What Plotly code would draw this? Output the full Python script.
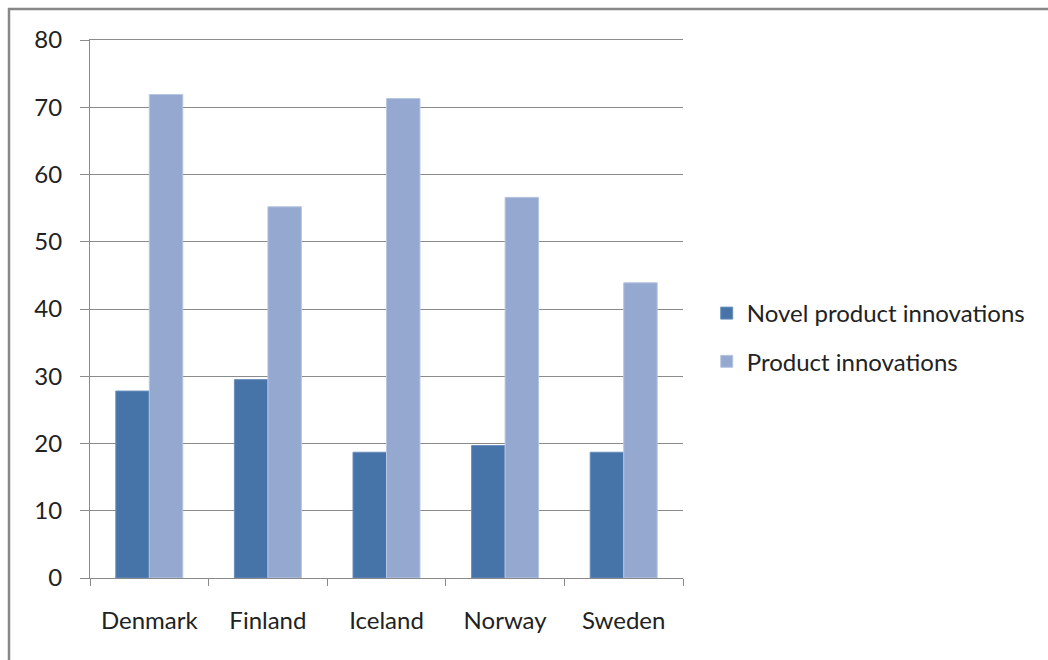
import plotly.graph_objects as go

countries = ["Denmark", "Finland", "Iceland", "Norway", "Sweden"]
novel_product = [27.8, 29.5, 18.7, 19.7, 18.7]
product = [71.9, 55.2, 71.3, 56.6, 43.9]
y_ticks = [0, 10, 20, 30, 40, 50, 60, 70, 80]

FONT = "Lato, 'Open Sans', sans-serif"
GRID = "#8a8a8a"
TEXT = "#222222"

fig = go.Figure()
fig.add_trace(go.Bar(
    x=countries, y=novel_product, name="Novel product innovations",
    marker=dict(color="#4674A8", line=dict(color="#6a8fbd", width=1)),
    legendgroup="a",
))
fig.add_trace(go.Bar(
    x=countries, y=product, name="Product innovations",
    marker=dict(color="#95A9D0", line=dict(color="#b7c6e2", width=1)),
    legendgroup="b",
))

fig.update_layout(
    width=1048, height=660,
    margin=dict(l=90, r=365, t=40, b=82),
    paper_bgcolor="white", plot_bgcolor="white",
    barmode="group", bargap=0.435, bargroupgap=0,
    font=dict(family=FONT, size=24, color=TEXT),
    showlegend=True,
    legend=dict(
        x=1.04, y=0.447, xanchor="left", yanchor="middle",
        font=dict(family=FONT, size=24, color=TEXT),
        tracegroupgap=14, itemwidth=30,
        bgcolor="rgba(0,0,0,0)",
    ),
    xaxis=dict(
        showgrid=False, showline=True, linecolor=GRID, linewidth=1, mirror=True,
        ticks="outside", tickson="boundaries", ticklen=7, tickcolor=GRID,
        ticklabelstandoff=21,
    ),
    yaxis=dict(
        range=[0, 80], tickvals=y_ticks, showgrid=True, gridcolor=GRID, gridwidth=1,
        showline=True, linecolor=GRID, linewidth=1,
        ticks="outside", ticklen=9, tickcolor=GRID,
        ticklabelstandoff=13, zeroline=False,
    ),
    shapes=[
        dict(type="rect", xref="paper", yref="paper",
             x0=-0.1366, x1=1.8, y0=-0.3, y1=1.0576,
             line=dict(color="#888888", width=2.5), fillcolor="rgba(0,0,0,0)",
             layer="below"),
    ],
)

fig.write_html("out.html")
